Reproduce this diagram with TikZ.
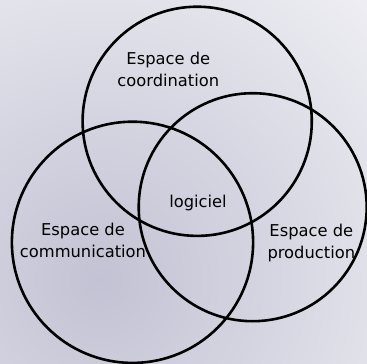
\documentclass[tikz,border=0pt]{standalone}
\usepackage{fontspec}
\setmainfont{DejaVu Sans}
\usepackage{tikz}
\usetikzlibrary{positioning}
\usepackage{xcolor}
\definecolor{vnbg}{RGB}{194,194,212}
\tikzstyle{zone} = [line width=2.6pt, draw=black]
\tikzstyle{spacetext} = [align=center, inner sep=0pt, font=\fontsize{16.3}{22}\selectfont]

\begin{document}
\begin{tikzpicture}[x=1pt, y=-1pt]
\useasboundingbox (0,0) rectangle (367,364);
% Background shading
\begin{scope}
\clip (0,0) rectangle (367,364);
\shade[inner color=vnbg, outer color=white] (100,280) circle (540);
\end{scope}

% The three spaces
\draw[zone] (197.2,121.3) circle (114.6);
\draw[zone] (132.5,242.3) circle (120.6);
\draw[zone] (252.7,207.2) circle (114);

% Labels
\node[spacetext] (coord) at (168.3,69.8) {Espace de\\coordination};
\node[spacetext] (logi) at (198,202.7) {logiciel};
\node[spacetext] (comm) at (83,240.8) {Espace de\\communication};
\node[spacetext] (prod) at (311.3,242.7) {Espace de\\production};
\end{tikzpicture}
\end{document}
